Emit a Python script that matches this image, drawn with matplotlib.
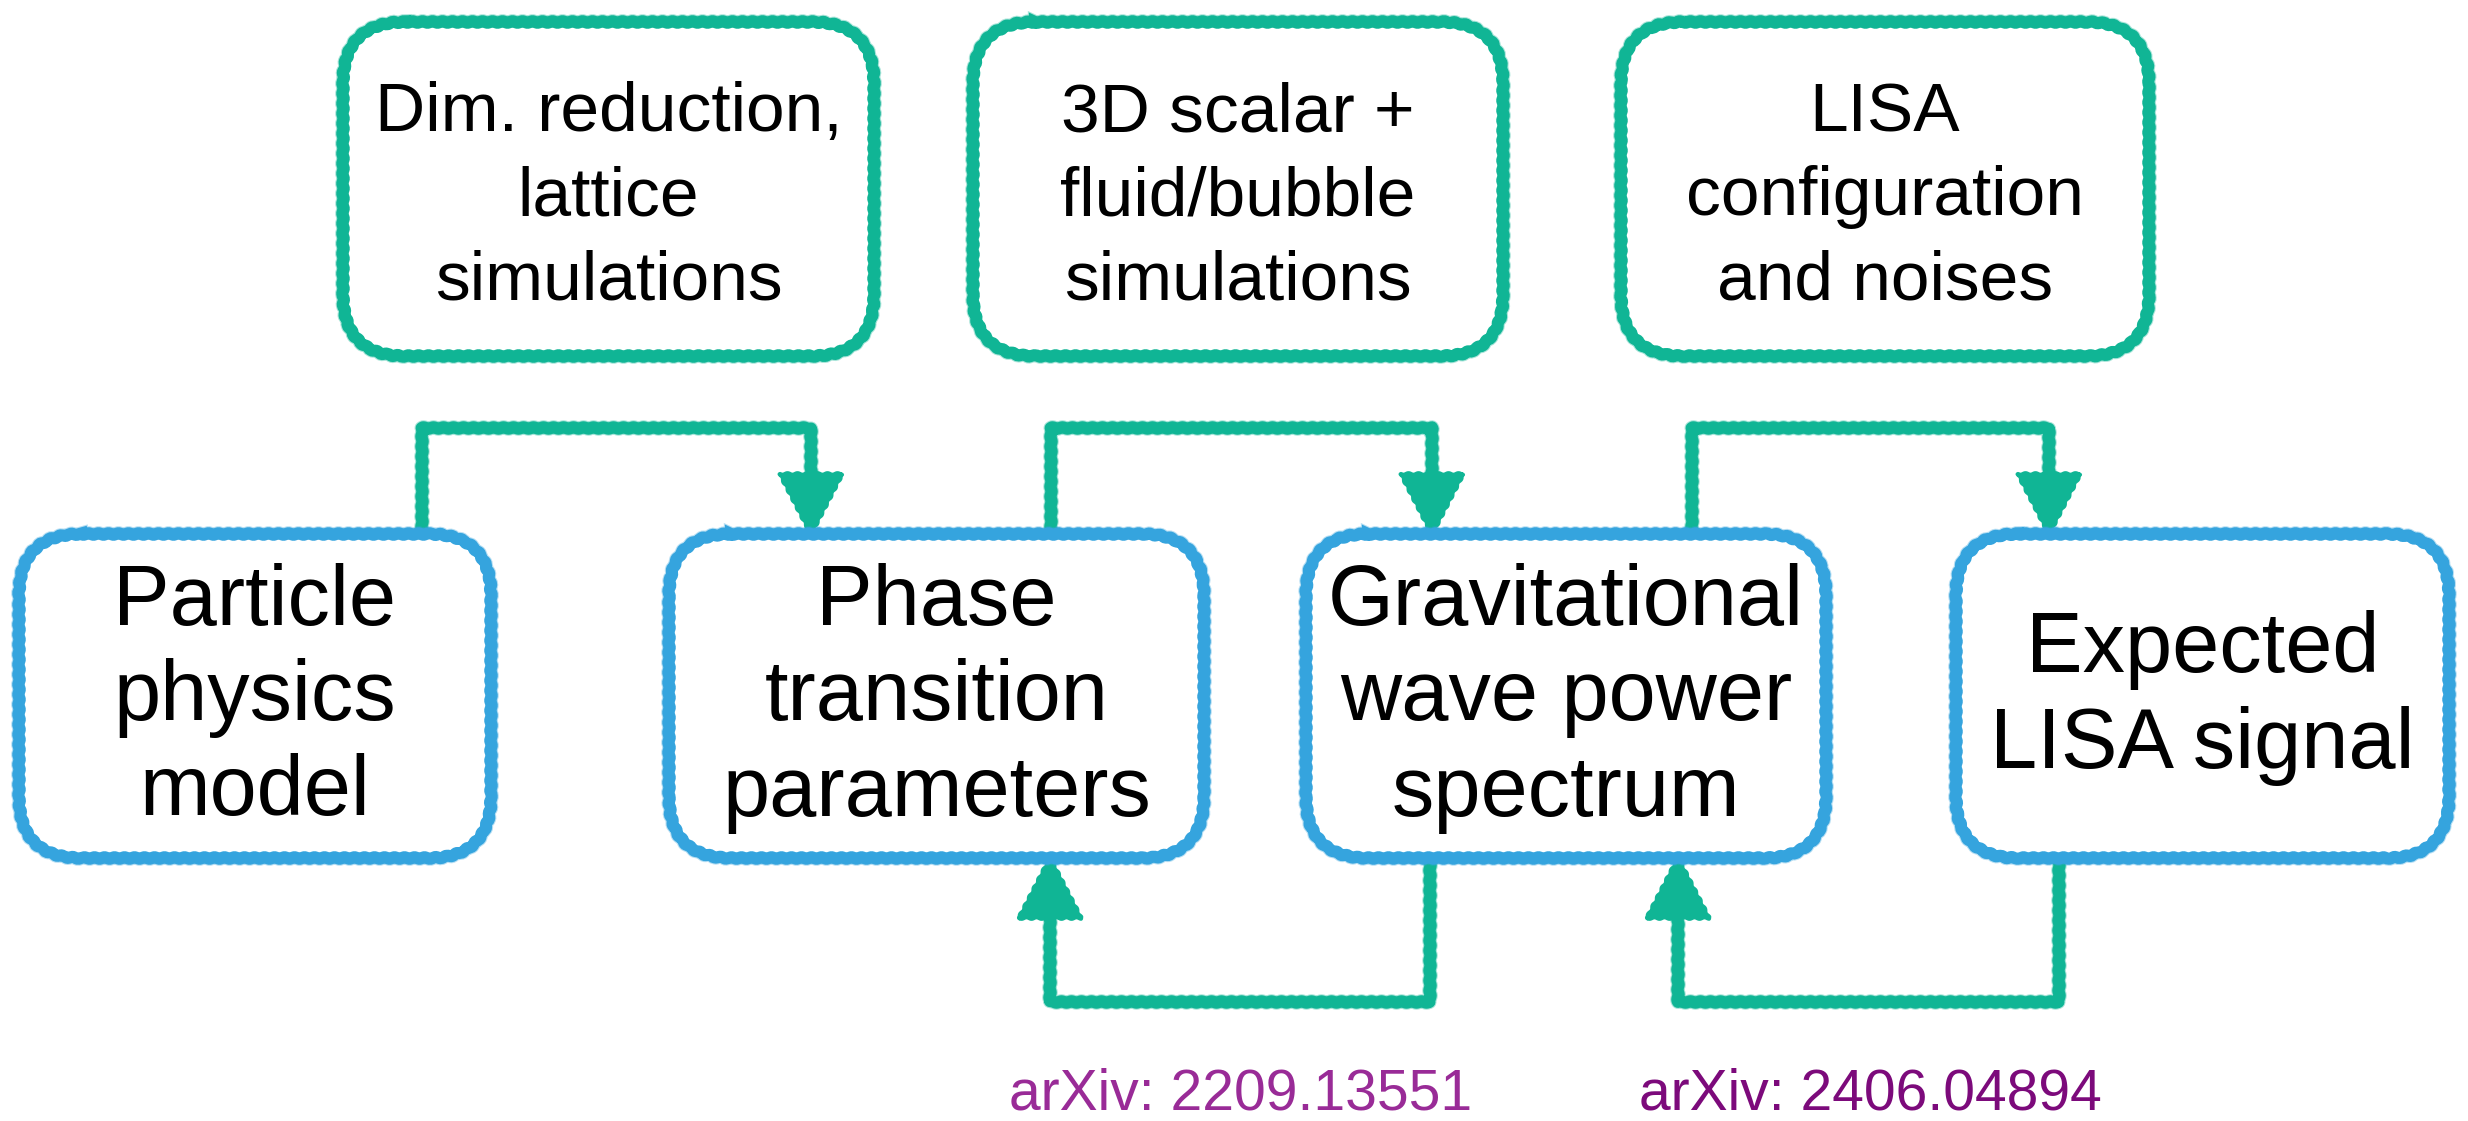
import matplotlib
matplotlib.use("Agg")
import matplotlib.pyplot as plt
import matplotlib.patheffects as pe
from matplotlib.patches import FancyBboxPatch, Polygon

plt.rcParams['font.family'] = ['Liberation Sans', 'DejaVu Sans']

# box texts
top_labels = ["Dim. reduction,\nlattice\nsimulations",
              "3D scalar +\nfluid/bubble\nsimulations",
              "LISA\nconfiguration\nand noises"]
bottom_labels = ["Particle\nphysics\nmodel",
                 "Phase\ntransition\nparameters",
                 "Gravitational\nwave power\nspectrum",
                 "Expected\nLISA signal"]
ref_labels = ["arXiv: 2209.13551", "arXiv: 2406.04894"]
ref_colors = ["#992b97", "#7c0a7b"]

green = "#10b595"
blue = "#35a4de"

# layout, in pixels of the 2468x1121 canvas
W, H = 2468, 1121
top_x = [(343, 874), (973, 1503), (1621, 2149)]
top_y = (22, 356)
bot_x = [(19, 491), (669, 1204), (1306, 1826), (1956, 2449)]
bot_y = (534, 858)

# forward links above the row, feedback links below it
fwd_from = [422, 1051, 1692]
fwd_to = [811, 1432, 2049]
fwd_level = 428
back_from = [1430, 2059]
back_to = [1050, 1678]
back_level = 1002

lw = 8.6
rad = 62
head_w, head_h = 62, 60
sketch = (0.8, 10, 1)


def fringe(color):
    # soft crayon-like edge around each stroke
    return [pe.Stroke(linewidth=lw + 1.5, foreground=color, alpha=0.35), pe.Normal()]


fig = plt.figure(figsize=(W / 100, H / 100), dpi=100)
ax = fig.add_axes([0, 0, 1, 1])
ax.set_xlim(0, W)
ax.set_ylim(H, 0)
ax.axis("off")


def rough_box(x0, x1, y0, y1, color, text, size, spacing, dy):
    box = FancyBboxPatch((x0, y0), x1 - x0, y1 - y0,
                         boxstyle=f"round,pad=0,rounding_size={rad}",
                         fc="white", ec=color, lw=lw, zorder=3,
                         path_effects=fringe(color))
    box.set_sketch_params(*sketch)
    ax.add_patch(box)
    ax.text((x0 + x1) / 2, (y0 + y1) / 2 + dy, text, ha="center", va="center",
            fontsize=size, linespacing=spacing, color="black", zorder=4)


def arrow(xs, ys, tip_x, tip_y, up):
    line, = ax.plot(xs, ys, color=green, lw=lw, solid_joinstyle="round",
                    solid_capstyle="butt", zorder=2, path_effects=fringe(green))
    line.set_sketch_params(*sketch)
    d = head_h if up else -head_h
    head = Polygon([(tip_x - head_w / 2, tip_y + d), (tip_x + head_w / 2, tip_y + d),
                    (tip_x, tip_y)], closed=True, fc=green, ec=green, lw=3,
                   joinstyle="round", zorder=2)
    head.set_sketch_params(*sketch)
    ax.add_patch(head)


for x0, x1 in zip(fwd_from, fwd_to):
    arrow([x0, x0, x1, x1], [bot_y[0], fwd_level, fwd_level, bot_y[0] - head_h + 5],
          x1, bot_y[0], up=False)

for x0, x1 in zip(back_from, back_to):
    arrow([x0, x0, x1, x1], [bot_y[1], back_level, back_level, bot_y[1] + head_h - 5],
          x1, bot_y[1], up=True)

for (x0, x1), lab in zip(top_x, top_labels):
    rough_box(x0, x1, top_y[0], top_y[1], green, lab, 50, 1.4, 8)

for (x0, x1), lab in zip(bot_x, bottom_labels):
    rough_box(x0, x1, bot_y[0], bot_y[1], blue, lab, 61, 1.25, 2)

for x, lab, c in zip([1241, 1870], ref_labels, ref_colors):
    ax.text(x, 1110, lab, ha="center", va="baseline", fontsize=41, color=c)

fig.savefig("out.png", dpi=100, facecolor="white")
